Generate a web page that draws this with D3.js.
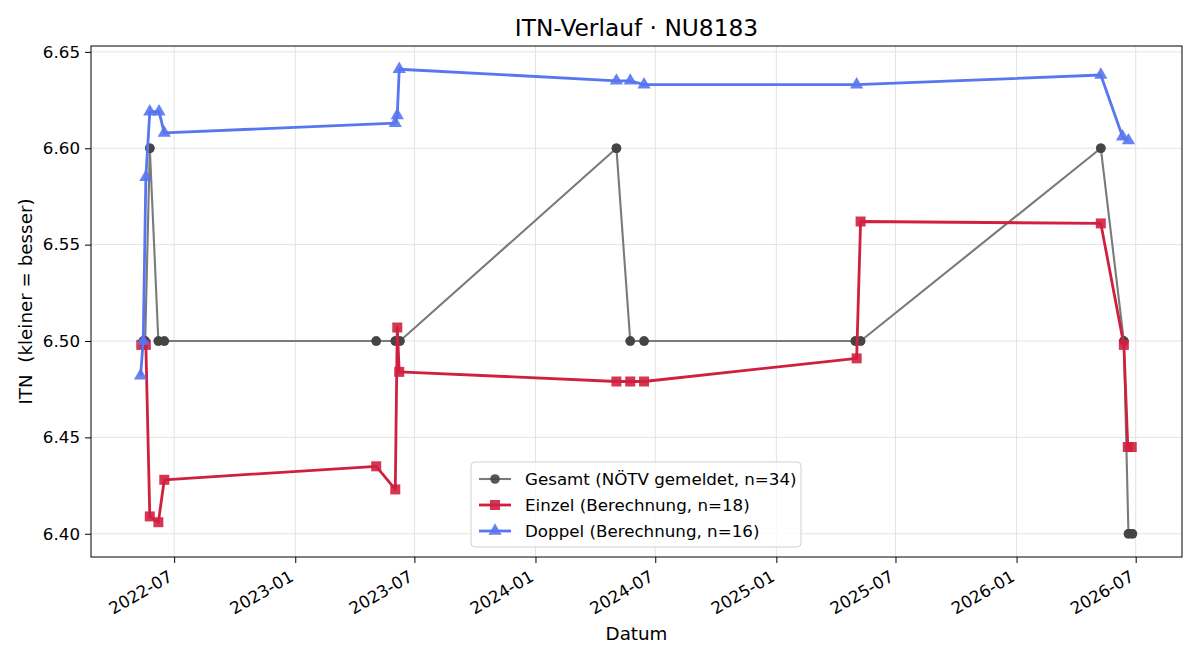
<!DOCTYPE html>
<html lang="de">
<head>
<meta charset="utf-8">
<title>ITN-Verlauf</title>
<script src="https://cdn.jsdelivr.net/npm/d3@7"></script>
<style>
  body { margin: 0; background: #fff; }
  svg text { font-family: "DejaVu Sans", sans-serif; fill: #000; white-space: pre; }
  .grid line { stroke: #e3e3e3; stroke-width: 1; }
  .axis path, .axis line { stroke: #000; }
</style>
</head>
<body>
<script>
// Gesamt (NÖTV gemeldet), 34 Meldungen
var gesamtDates = ["2022-05-15","2022-05-15","2022-05-18","2022-05-18","2022-05-25","2022-05-25",
  "2022-06-07","2022-06-07","2022-06-16","2022-06-16","2023-05-04","2023-05-04",
  "2023-06-02","2023-06-02","2023-06-09","2023-06-09","2024-05-03","2024-05-03",
  "2024-05-24","2024-05-24","2024-06-14","2024-06-14","2025-05-01","2025-05-01",
  "2025-05-09","2025-05-09","2026-05-09","2026-05-09","2026-06-13","2026-06-13",
  "2026-06-20","2026-06-20","2026-06-26","2026-06-26"];
var gesamtValues = [6.50,6.50,6.50,6.50,6.60,6.60,
  6.50,6.50,6.50,6.50,6.50,6.50,
  6.50,6.50,6.50,6.50,6.60,6.60,
  6.50,6.50,6.50,6.50,6.50,6.50,
  6.50,6.50,6.60,6.60,6.50,6.50,
  6.40,6.40,6.40,6.40];

// Einzel (Berechnung), 18
var einzelDates = ["2022-05-12","2022-05-19","2022-05-25","2022-06-07","2022-06-16",
  "2023-05-04","2023-06-02","2023-06-05","2023-06-08",
  "2024-05-03","2024-05-24","2024-06-14",
  "2025-05-03","2025-05-09",
  "2026-05-09","2026-06-13","2026-06-19","2026-06-25"];
var einzelValues = [6.498,6.498,6.409,6.406,6.428,
  6.435,6.423,6.507,6.484,
  6.479,6.479,6.479,
  6.491,6.562,
  6.561,6.498,6.445,6.445];

// Doppel (Berechnung), 16
var doppelDates = ["2022-05-11","2022-05-15","2022-05-19","2022-05-25","2022-06-08","2022-06-16",
  "2023-06-02","2023-06-05","2023-06-08",
  "2024-05-03","2024-05-24","2024-06-14",
  "2025-05-03",
  "2026-05-09","2026-06-11","2026-06-20"];
var doppelValues = [6.482,6.500,6.585,6.619,6.619,6.608,
  6.613,6.617,6.641,
  6.635,6.635,6.633,
  6.633,
  6.638,6.606,6.604];

var yTicks = [6.40, 6.45, 6.50, 6.55, 6.60, 6.65];
var xTickDates = ["2022-07-01","2023-01-01","2023-07-01","2024-01-01","2024-07-01",
  "2025-01-01","2025-07-01","2026-01-01","2026-07-01"];

var w = 1200, h = 660;
var margin = {top: 46, right: 18, bottom: 103, left: 91};

var parse = d3.timeParse("%Y-%m-%d");
var fmt = d3.timeFormat("%Y-%m");

function zip(dates, values) {
  return dates.map(function(d, i) { return [parse(d), values[i]]; });
}
var series = [
  {name: "Gesamt (NÖTV gemeldet, n=34)", data: zip(gesamtDates, gesamtValues),
   line: "#7a7a7a", lw: 2.1, mark: "#444", shape: "circle"},
  {name: "Einzel (Berechnung, n=18)", data: zip(einzelDates, einzelValues),
   line: "#d0203f", lw: 2.8, mark: "#d0203f", shape: "square"},
  {name: "Doppel (Berechnung, n=16)", data: zip(doppelDates, doppelValues),
   line: "#5876f0", lw: 2.8, mark: "#5876f0", shape: "triangle"}
];

var all = [].concat(series[0].data, series[1].data, series[2].data);
var xExt = d3.extent(all, function(d) { return d[0]; });
var yExt = d3.extent(all, function(d) { return d[1]; });
var xPad = (xExt[1] - xExt[0]) * 0.05;
var yPad = (yExt[1] - yExt[0]) * 0.05;

var xScale = d3.scaleTime()
  .domain([new Date(+xExt[0] - xPad), new Date(+xExt[1] + xPad)])
  .range([margin.left, w - margin.right]);
var yScale = d3.scaleLinear()
  .domain([yExt[0] - yPad, yExt[1] + yPad])
  .range([h - margin.bottom, margin.top]);

var svg = d3.select("body").append("svg")
  .attr("width", w).attr("height", h);

// grid
var grid = svg.append("g").attr("class", "grid");
grid.selectAll("line.gx").data(xTickDates.map(parse)).enter().append("line")
  .attr("x1", function(d) { return xScale(d); }).attr("x2", function(d) { return xScale(d); })
  .attr("y1", margin.top).attr("y2", h - margin.bottom);
grid.selectAll("line.gy").data(yTicks).enter().append("line")
  .attr("y1", function(d) { return yScale(d); }).attr("y2", function(d) { return yScale(d); })
  .attr("x1", margin.left).attr("x2", w - margin.right);

// lines + markers
var lineGen = d3.line()
  .x(function(d) { return xScale(d[0]); })
  .y(function(d) { return yScale(d[1]); });

var sym = {circle: d3.symbolCircle, square: d3.symbolSquare, triangle: d3.symbolTriangle};
var symSize = {circle: 72, square: 100, triangle: 76};

function drawMarker(g, s, x, y, op) {
  g.append("path")
    .attr("d", d3.symbol().type(sym[s.shape]).size(symSize[s.shape])())
    .attr("transform", "translate(" + x + "," + y + ")")
    .attr("fill", s.mark)
    .attr("fill-opacity", op);
}

series.forEach(function(s) {
  var g = svg.append("g");
  g.append("path")
    .attr("d", lineGen(s.data))
    .attr("fill", "none")
    .attr("stroke", s.line)
    .attr("stroke-width", s.lw)
    .attr("stroke-linejoin", "round");
  s.data.forEach(function(d) {
    drawMarker(g, s, xScale(d[0]), yScale(d[1]), 0.9);
  });
});

// axes
var xAxis = d3.axisBottom(xScale)
  .tickValues(xTickDates.map(parse))
  .tickFormat(fmt)
  .tickSizeOuter(0)
  .tickSize(6);
var gx = svg.append("g").attr("class", "axis")
  .attr("transform", "translate(0," + (h - margin.bottom) + ")")
  .call(xAxis);
gx.select(".domain").remove();
gx.selectAll("text")
  .style("font-size", "16.7px")
  .attr("text-anchor", "end")
  .attr("y", 0).attr("dy", 0)
  .attr("transform", "translate(-1,23) rotate(-30)");

var yAxis = d3.axisLeft(yScale)
  .tickValues(yTicks)
  .tickFormat(d3.format(".2f"))
  .tickSize(6);
var gy = svg.append("g").attr("class", "axis")
  .attr("transform", "translate(" + margin.left + ",0)")
  .call(yAxis);
gy.select(".domain").remove();
gy.selectAll("text").style("font-size", "16.7px").attr("x", -11);

// frame
svg.append("rect")
  .attr("x", margin.left).attr("y", margin.top)
  .attr("width", w - margin.left - margin.right)
  .attr("height", h - margin.top - margin.bottom)
  .attr("fill", "none").attr("stroke", "#000").attr("stroke-width", 1);

// labels
svg.append("text")
  .attr("x", (margin.left + w - margin.right) / 2).attr("y", 36)
  .attr("text-anchor", "middle").style("font-size", "23.3px")
  .text("ITN-Verlauf · NU8183");
svg.append("text")
  .attr("x", (margin.left + w - margin.right) / 2).attr("y", 640)
  .attr("text-anchor", "middle").style("font-size", "18.3px")
  .text("Datum");
svg.append("text")
  .attr("transform", "translate(32," + ((margin.top + h - margin.bottom) / 2) + ") rotate(-90)")
  .attr("text-anchor", "middle").style("font-size", "18.3px")
  .text("ITN  (kleiner = besser)");

// legend
var lg = svg.append("g").attr("transform", "translate(471,462)");
lg.append("rect")
  .attr("width", 330).attr("height", 85).attr("rx", 4)
  .attr("fill", "#fff").attr("fill-opacity", 0.8)
  .attr("stroke", "#d0d0d0");
series.forEach(function(s, i) {
  var y = 17 + i * 26;
  lg.append("line")
    .attr("x1", 8).attr("x2", 40).attr("y1", y).attr("y2", y)
    .attr("stroke", s.line).attr("stroke-width", s.lw);
  drawMarker(lg, s, 24, y, 0.9);
  lg.append("text")
    .attr("x", 54).attr("y", y).attr("dy", "0.35em")
    .style("font-size", "16.7px")
    .text(s.name);
});
</script>
</body>
</html>
